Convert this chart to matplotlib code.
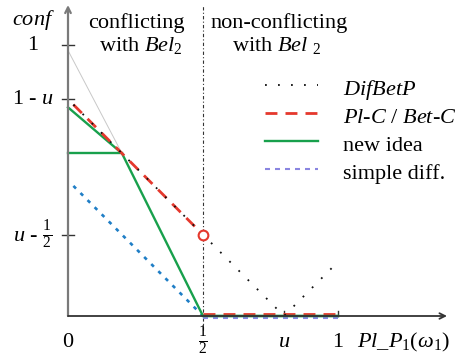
import matplotlib
matplotlib.use("Agg")
import matplotlib.pyplot as plt

plt.rcParams['font.family'] = ['Liberation Serif', 'DejaVu Serif']
plt.rcParams['mathtext.fontset'] = 'custom'
plt.rcParams['mathtext.rm'] = 'Liberation Serif'
plt.rcParams['mathtext.it'] = 'Liberation Serif:italic'
plt.rcParams['mathtext.bf'] = 'Liberation Serif:bold'

# ---- data ----
u = 0.8
xtick_vals = [0, 0.5, u, 1]
xtick_labels = ['0', r'$\frac{1}{2}$', r'$u$', '1']
ytick_vals = [1.0, 0.8, 0.3]
ytick_labels = ['1', r'1 - $u$', r'$u$ - $\frac{1}{2}$']

difbetp_x = [0.02, 0.5, 0.8, 0.98]
difbetp_y = [0.78, 0.3, 0.0, 0.18]
plc_x = [0.02, 0.5]
plc_y = [0.78, 0.3]
plc_flat_x = [0.5, 1.0]
plc_flat_y = [0.006, 0.006]
new_x = [0.0, 0.2, 0.5, 1.0]
new_y = [0.77, 0.6, 0.0, 0.0]
new_lower_x = [0.0, 0.2]
new_lower_y = [0.6, 0.6]
gray_x = [0.0, 0.2]
gray_y = [0.98, 0.6]
blue_x = [0.02, 0.5]
blue_y = [0.48, 0.0]
simple_x = [0.5, 1.0]
simple_y = [-0.006, -0.006]
circle_x = [0.5]
circle_y = [0.3]

legend_labels = [r'$DifBetP$', r'$Pl$-$C$ / $Bet$-$C$', 'new idea', 'simple diff.']

RED = '#e5382d'
GREEN = '#18a04c'
BLUE = '#1f7ec6'
PURPLE = '#8a86e0'

W, H = 463, 362
fig = plt.figure(figsize=(W / 100, H / 100), dpi=100)
ax = fig.add_axes([0, 0, 1, 1])
ax.set_axis_off()
# pixel mapping: x=0 -> 68px, x=1 -> 338px ; y=0 -> 316px, y=1 -> 45px
sx, sy = 270.0, 271.0
ax.set_xlim(-68 / sx, (W - 68) / sx)
ax.set_ylim(-(H - 316) / sy, 316 / sy)

def px(v):
    return v / sx

def py(v):
    return v / sy

# axes
ax.annotate('', xy=(0, 311 / sy), xytext=(0, 0),
            arrowprops=dict(arrowstyle='->', color='#7a7a7a', lw=1.6, shrinkA=0, shrinkB=0))
ax.annotate('', xy=((447 - 68) / sx, 0), xytext=(0, 0),
            arrowprops=dict(arrowstyle='->', color='#333333', lw=1.3, shrinkA=0, shrinkB=0))

# y ticks
for v, lab in zip(ytick_vals, ytick_labels):
    ax.plot([-px(6), px(6)], [v, v], color='#333333', lw=1.0)
    ax.text(-px(35), v, lab, ha='center', va='center', fontsize=16)
ax.text(-px(35), 1.0 + py(72) / 1.0 - py(47), r'$conf$', ha='center', va='center', fontsize=16)

# x ticks
for v in xtick_vals[2:]:
    ax.plot([v, v], [0, py(5)], color='#333333', lw=1.0)
for v, lab in zip(xtick_vals, xtick_labels):
    if v == 0.5:
        ax.text(v, -py(25), lab, ha='center', va='center', fontsize=16)
    else:
        ax.text(v, -py(31), lab, ha='center', va='baseline', fontsize=16)
ax.text(px(357 - 68), -py(31), r'$Pl\_P_1(\omega_1)$', ha='left', va='baseline', fontsize=16)

# vertical divider
ax.plot([0.5, 0.5], [-py(14), py(311)], color='#333333', lw=0.8,
        linestyle=(0, (3, 2, 1, 2)))

# region labels
ax.text(px(136 - 68), py(316 - 28), 'conflicting', ha='center', va='baseline', fontsize=16)
ax.text(px(141 - 68), py(316 - 51), r'with $Bel_2$', ha='center', va='baseline', fontsize=16)
ax.text(px(279 - 68), py(316 - 28), 'non-conflicting', ha='center', va='baseline', fontsize=16)
ax.text(px(277 - 68), py(316 - 51), r'with $Bel\ _2$', ha='center', va='baseline', fontsize=16)

# lines
ax.plot(gray_x, gray_y, color='#c8c8c8', lw=0.7)
ax.plot(blue_x, blue_y, color=BLUE, lw=1.9, dashes=(1.4, 2.4))
ax.plot(new_x, new_y, color=GREEN, lw=1.7)
ax.plot(new_lower_x, new_lower_y, color=GREEN, lw=1.7)
ax.plot(plc_x, plc_y, color=RED, lw=2.0, dashes=(4.3, 2.9))
ax.plot(plc_flat_x, plc_flat_y, color=RED, lw=2.0, dashes=(4.3, 2.9))
ax.plot(simple_x, simple_y, color=PURPLE, lw=1.5, dashes=(2.4, 2.4))
ax.plot(new_x[2:], new_y[2:], color=GREEN, lw=1.7)
ax.plot(difbetp_x, difbetp_y, color='#111111', lw=1.3, dashes=(1, 6.2))
ax.plot(circle_x, circle_y, 'o', mfc='white', mec=RED, ms=7, mew=1.5)

# legend (manual)
rows = [85, 113, 141, 169]
styles = [dict(color='#111111', lw=1.3, dashes=(1, 6.2)),
          dict(color=RED, lw=2.0, dashes=(4.3, 2.9)),
          dict(color=GREEN, lw=1.7),
          dict(color=PURPLE, lw=1.5, dashes=(2.4, 2.4))]
for r, st, lab in zip(rows, styles, legend_labels):
    yy = py(316 - r)
    ax.plot([px(265 - 68), px(318 - 68)], [yy, yy], **st)
    ax.text(px(343 - 68), py(316 - r - 10), lab, ha='left', va='baseline', fontsize=16)

fig.savefig('out.png', dpi=100)
